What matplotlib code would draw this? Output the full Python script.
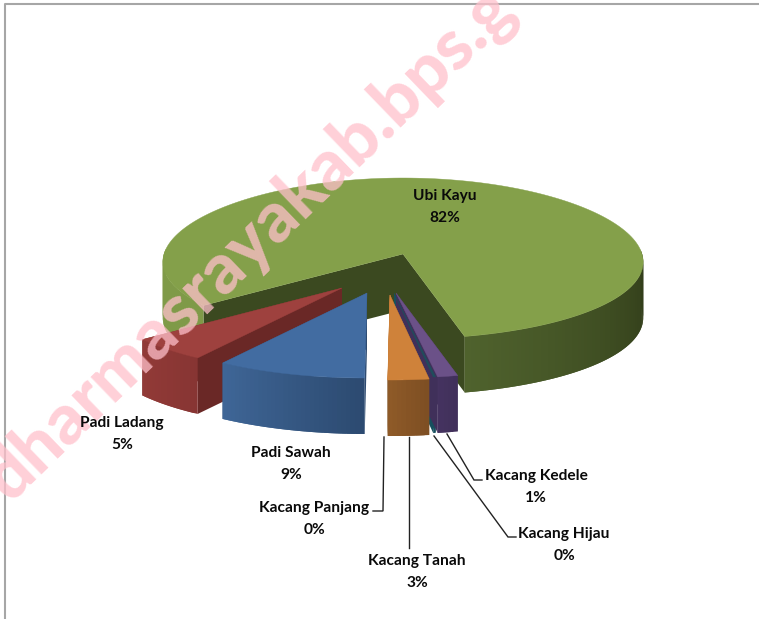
import numpy as np
import matplotlib
matplotlib.use("Agg")
import matplotlib.pyplot as plt
from matplotlib.colors import to_rgb

# data
names = ["Padi Sawah", "Padi Ladang", "Ubi Kayu", "Kacang Kedele", "Kacang Hijau", "Kacang Tanah", "Kacang Panjang"]
values = [9.3, 5.0, 82.05, 1.25, 0.15, 2.52, 0.01]

# pie shape, in pixels
CX, CY = 403, 254
A, B = 239, 80.5
KX, KY = 0.1, 0.056
DEPTH = 56
FIRST_ANGLE = 180.5

# where each slice's tip ends up after exploding
tips = {"Padi Sawah": (367, 293), "Padi Ladang": (342, 288), "Ubi Kayu": (CX, CY),
        "Kacang Kedele": (396, 293), "Kacang Hijau": (394, 293), "Kacang Tanah": (390, 295),
        "Kacang Panjang": (390, 295)}

# top, cut face, outer side (start of the sweep, end of the sweep)
colors = {"Padi Sawah": ("#426ca1", "#2d4a70", "#2c4a70", "#3f6697"),
          "Padi Ladang": ("#9e413e", "#6a2826", "#873533", "#923a37"),
          "Ubi Kayu": ("#84a04a", "#3b4920", "#4f622d", "#7f9a48"),
          "Kacang Kedele": ("#6b5188", "#40305a", "#40305a", "#453360"),
          "Kacang Hijau": ("#1f4d5c", "#17505e", "#17505e", "#17505e"),
          "Kacang Tanah": ("#cf823a", "#7d4e23", "#7d4e23", "#8f5b28"),
          "Kacang Panjang": ("#cf823a", "#7d4e23", "#7d4e23", "#7d4e23")}

label_pos = {"Padi Sawah": (291, 464), "Padi Ladang": (122, 434), "Ubi Kayu": (445, 207),
             "Kacang Kedele": (536, 487), "Kacang Hijau": (564, 545), "Kacang Tanah": (417, 572),
             "Kacang Panjang": (314, 519)}
leaders = {"Kacang Kedele": [(447, 434), (474, 480), (482, 480)],
           "Kacang Hijau": [(434, 436), (508, 537), (516, 537)],
           "Kacang Tanah": [(409, 437), (409, 548)],
           "Kacang Panjang": [(384, 437), (383, 511), (373, 511)]}
draw_order = ["Ubi Kayu", "Padi Ladang", "Padi Sawah", "Kacang Panjang", "Kacang Hijau", "Kacang Kedele", "Kacang Tanah"]


def rim(theta, tip):
    # theta is clockwise from the back of the pie, in degrees
    t = np.radians(theta)
    u, v = np.sin(t), np.cos(t)
    return tip[0] + A * u * (1 - KX * v), tip[1] - B * v * (1 - KY * v)


def mix(c1, c2, f):
    c1, c2 = np.array(to_rgb(c1)), np.array(to_rgb(c2))
    return tuple(c1 + (c2 - c1) * f)


fig = plt.figure(figsize=(7.59, 6.19), dpi=100)
ax = fig.add_axes([0, 0, 1, 1])
ax.set_xlim(0, 759)
ax.set_ylim(619, 0)
ax.axis("off")

total = sum(values)
spans = {}
start = FIRST_ANGLE
for name, val in zip(names, values):
    spans[name] = (start, start + val / total * 360)
    start = spans[name][1]

for name in draw_order:
    t1, t2 = spans[name]
    tip = tips[name]
    top, face, side1, side2 = colors[name]

    # the two cut faces
    for t in (t1, t2):
        x, y = rim(t, tip)
        ax.fill([tip[0], x, x, tip[0]], [tip[1], y, y + DEPTH, tip[1] + DEPTH],
                color=face, lw=0, zorder=2)

    # outer side in thin strips so it shades along the rim, each one running
    # under the next so no seams show
    step = 1.0
    edges = np.arange(t1, t2, step)
    for e in edges:
        e_end = min(e + 2 * step, t2)
        mid = e + step / 2
        if np.cos(np.radians(mid)) > 0.05:
            continue
        if name == "Ubi Kayu":
            if np.sin(np.radians(mid)) < 0:
                c = to_rgb(side2)
            else:
                # right part of the front, darkest at the right edge
                c = mix("#2f3a18", side1, np.clip((mid % 360 - 90) / 76, 0, 1))
        else:
            c = mix(side1, side2, (mid - t1) / (t2 - t1))
        arc = np.linspace(e, e_end, 4)
        xs, ys = rim(arc, tip)
        ax.fill(np.r_[xs, xs[::-1]], np.r_[ys, ys[::-1] + DEPTH], color=c, lw=0, zorder=2)

    # top surface
    arc = np.linspace(t1, t2, 200)
    xs, ys = rim(arc, tip)
    ax.fill(np.r_[tip[0], xs], np.r_[tip[1], ys], color=top, lw=0.3, zorder=3)

# watermark
ax.text(10, 503, "dharmasrayakab.bps.g", rotation=44, rotation_mode="anchor",
        family="Lato", weight=900, fontsize=51, color="pink", alpha=0.75,
        ha="left", va="baseline", zorder=4)

# labels
for name, val in zip(names, values):
    lx, ly = label_pos[name]
    pct = val / total * 100
    ax.text(lx, ly, f"{name}\n{pct:.0f}%", family="Lato", weight="bold", fontsize=11.2,
            color="#0a0a0a", ha="center", va="center", linespacing=1.7, zorder=6)

for name, pts in leaders.items():
    xs, ys = zip(*pts)
    ax.plot(xs, ys, color="#222222", lw=1, zorder=5, solid_joinstyle="miter")

# chart frame, cut off on the right and bottom
ax.plot([5, 5, 759], [619, 4, 4], color="#a6a6a6", lw=1.5, zorder=1, clip_on=False)

fig.savefig("out.png", dpi=100)
